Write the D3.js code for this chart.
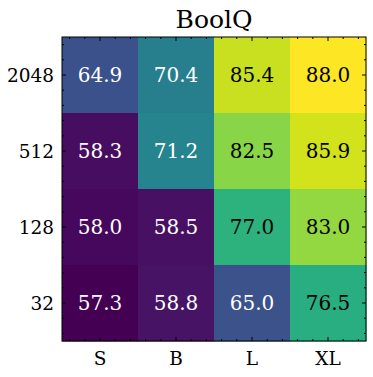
<!DOCTYPE html>
<html><head><meta charset="utf-8">
<script src="https://cdn.jsdelivr.net/npm/d3@7"></script>
<style>body{margin:0;background:#fff}svg{display:block}</style>
</head><body>
<script>
const title = "BoolQ";
const xLabels = ["S","B","L","XL"];
const yLabels = ["2048","512","128","32"];
const values = [
  [64.9, 70.4, 85.4, 88.0],
  [58.3, 71.2, 82.5, 85.9],
  [58.0, 58.5, 77.0, 83.0],
  [57.3, 58.8, 65.0, 76.5]
];

const W = 373, H = 377;
const m = {left: 62, top: 37, right: 7, bottom: 36};
const pw = W - m.left - m.right, ph = H - m.top - m.bottom;
const FONT = "'DejaVu Serif', serif";

const svg = d3.select("body").append("svg").attr("width", W).attr("height", H)
  .style("font-family", FONT);
const g = svg.append("g").attr("transform", `translate(${m.left},${m.top})`);

const x = d3.scaleLinear().domain([-0.5, 3.5]).range([0, pw]);
const y = d3.scaleLinear().domain([-0.5, 3.5]).range([0, ph]);
const flat = values.flat();
const vmin = d3.min(flat), vmax = d3.max(flat);
const color = d3.scaleSequential(d3.interpolateViridis).domain([vmin, vmax]);

const cells = [];
values.forEach((row, i) => row.forEach((v, j) => cells.push({i, j, v})));

g.selectAll("rect.cell").data(cells).enter().append("rect")
  .attr("class","cell")
  .attr("x", d => x(d.j - 0.5)).attr("y", d => y(d.i - 0.5))
  .attr("width", x(0.5) - x(-0.5) + 0.5).attr("height", y(0.5) - y(-0.5) + 0.5)
  .attr("fill", d => color(d.v));

g.selectAll("text.val").data(cells).enter().append("text")
  .attr("class","val")
  .attr("x", d => x(d.j)).attr("y", d => y(d.i))
  .attr("text-anchor","middle").attr("dy","0.36em")
  .attr("font-size", 20)
  .attr("fill", d => (d.v - vmin) / (vmax - vmin) < 0.5 ? "#fff" : "#000")
  .text(d => d.v.toFixed(1));

// ticks
const major = [0,1,2,3];
const minor = d3.range(-0.4, 3.5, 0.2).filter(t => Math.abs(t - Math.round(t)) > 1e-6);
const tk = g.append("g").attr("stroke","#000").attr("stroke-width",1);
function ticks(list, len) {
  list.forEach(t => {
    const px = x(t), py = y(t);
    tk.append("line").attr("x1",px).attr("x2",px).attr("y1",ph).attr("y2",ph-len);
    tk.append("line").attr("x1",px).attr("x2",px).attr("y1",0).attr("y2",len);
    tk.append("line").attr("y1",py).attr("y2",py).attr("x1",0).attr("x2",len);
    tk.append("line").attr("y1",py).attr("y2",py).attr("x1",pw).attr("x2",pw-len);
  });
}
ticks(major, 4);
ticks(minor, 2);

g.append("rect").attr("x",0).attr("y",0).attr("width",pw).attr("height",ph)
  .attr("fill","none").attr("stroke","#000").attr("stroke-width",1);

g.selectAll("text.xl").data(xLabels).enter().append("text")
  .attr("x",(d,i)=>x(i)).attr("y", ph + 24).attr("text-anchor","middle")
  .attr("font-size",18.5).attr("fill","#000").text(d=>d);

g.selectAll("text.yl").data(yLabels).enter().append("text")
  .attr("x",-8).attr("y",(d,i)=>y(i)).attr("dy","0.36em").attr("text-anchor","end")
  .attr("font-size",18.5).attr("fill","#000").text(d=>d);

svg.append("text").attr("x", m.left + pw/2).attr("y", 28).attr("text-anchor","middle")
  .attr("font-size",25).attr("fill","#000").text(title);
</script>
</body></html>
